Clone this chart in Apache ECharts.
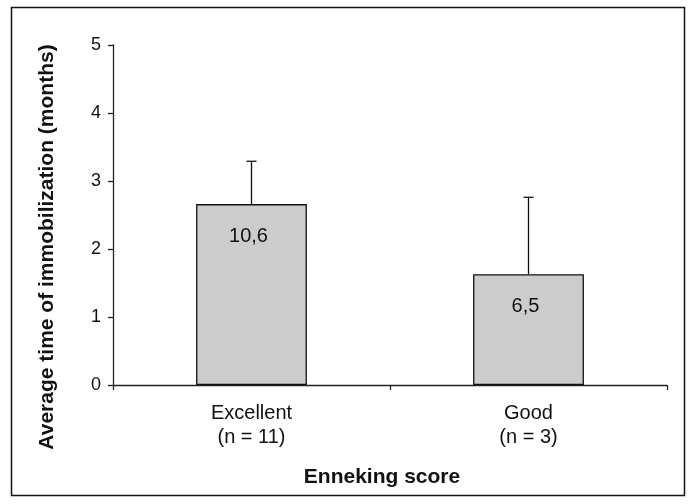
<!DOCTYPE html>
<html>
<head>
<meta charset="utf-8">
<script src="https://cdn.jsdelivr.net/npm/echarts@6/dist/echarts.min.js"></script>
<style>
html, body { margin: 0; padding: 0; background: #fff; }
#main { width: 691px; height: 504px; }
</style>
</head>
<body>
<div id="main"></div>
<script>
var categories = ['Excellent\n(n = 11)', 'Good\n(n = 3)'];
var means = [2.66, 1.63];
var errorTops = [3.29, 2.76];
var barLabels = ['10,6', '6,5'];
var yTicks = [0, 1, 2, 3, 4, 5];

var chart = echarts.init(document.getElementById('main'));

var errData = [];
for (var i = 0; i < categories.length; i++) {
    errData.push([i, means[i], errorTops[i]]);
}

var option = {
    backgroundColor: '#fff',
    animation: false,
    textStyle: { fontFamily: 'Liberation Sans, Arial, sans-serif', color: '#000' },
    grid: { left: 113, right: 24, top: 45, bottom: 119 },
    xAxis: {
        type: 'category',
        data: categories,
        boundaryGap: true,
        axisLine: { lineStyle: { color: '#222', width: 1.3 } },
        axisTick: { show: true, length: 5, lineStyle: { color: '#222', width: 1.3 } },
        axisLabel: { color: '#111', fontSize: 20, lineHeight: 24, margin: 16 }
    },
    yAxis: {
        type: 'value',
        min: yTicks[0],
        max: yTicks[yTicks.length - 1],
        interval: 1,
        splitLine: { show: false },
        axisLine: { show: true, lineStyle: { color: '#222', width: 1.3 } },
        axisTick: { show: true, length: 5, lineStyle: { color: '#222', width: 1.3 } },
        axisLabel: { color: '#111', fontSize: 18, margin: 12 }
    },
    series: [
        {
            type: 'bar',
            data: means,
            barWidth: '40%',
            itemStyle: { color: '#cccccc', borderColor: '#111', borderWidth: 1.3 },
            label: {
                show: true,
                position: 'insideTop',
                distance: 22,
                fontSize: 20,
                color: '#111',
                offset: [-3, 0],
                formatter: function (p) { return barLabels[p.dataIndex]; }
            },
            z: 2
        },
        {
            type: 'custom',
            data: errData,
            z: 3,
            renderItem: function (params, api) {
                var base = api.coord([api.value(0), api.value(1)]);
                var top = api.coord([api.value(0), api.value(2)]);
                var x = Math.round(base[0]) - 0.5;
                var capHalf = 5;
                var style = { stroke: '#111', lineWidth: 1.3 };
                return {
                    type: 'group',
                    children: [
                        { type: 'line', shape: { x1: x, y1: base[1], x2: x, y2: top[1] }, style: style },
                        { type: 'line', shape: { x1: x - capHalf, y1: top[1], x2: x + capHalf, y2: top[1] }, style: style }
                    ]
                };
            }
        }
    ],
    graphic: [
        {
            type: 'rect',
            shape: { x: 11.5, y: 7.5, width: 673, height: 488 },
            style: { fill: 'none', stroke: '#111', lineWidth: 1.5 },
            z: 0
        },
        {
            type: 'text',
            x: 47,
            y: 247,
            rotation: Math.PI / 2,
            style: {
                text: 'Average time of immobilization (months)',
                font: 'bold 21px Liberation Sans, Arial, sans-serif',
                fill: '#111',
                align: 'center',
                verticalAlign: 'middle'
            }
        },
        {
            type: 'text',
            x: 382,
            y: 477,
            style: {
                text: 'Enneking score',
                font: 'bold 21px Liberation Sans, Arial, sans-serif',
                fill: '#111',
                align: 'center',
                verticalAlign: 'middle'
            }
        }
    ]
};

chart.setOption(option);
</script>
</body>
</html>
